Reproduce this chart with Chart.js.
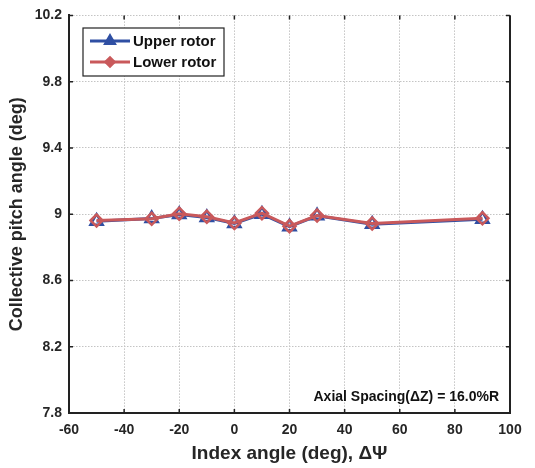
<!DOCTYPE html>
<html>
<head>
<meta charset="utf-8">
<script src="https://cdn.jsdelivr.net/npm/chart.js@4"></script>
<style>
  html, body { margin: 0; padding: 0; background: #fff; }
</style>
</head>
<body>
<canvas id="pitch-chart" width="535" height="468"></canvas>
<script>
// index angle (deg) and collective pitch (deg) for both rotors
var indexAngles = [-50, -30, -20, -10, 0, 10, 20, 30, 50, 90];
var upperPitch = [8.958, 8.974, 8.998, 8.980, 8.944, 9.000, 8.925, 8.990, 8.940, 8.970];
var lowerPitch = [8.962, 8.972, 9.003, 8.985, 8.947, 9.006, 8.928, 8.992, 8.944, 8.975];
var xTicks = [-60, -40, -20, 0, 20, 40, 60, 80, 100];
var yTicks = [7.8, 8.2, 8.6, 9, 9.4, 9.8, 10.2];

var blue = '#2f4fa3';
var red = '#c9595b';
var fontFamily = '"Liberation Sans", Arial, sans-serif';

function toPoints(ys) {
    return indexAngles.map(function (x, i) { return { x: x, y: ys[i] }; });
}

// legend box with line + marker samples, matlab style
var boxLegend = {
    id: 'boxLegend',
    afterDatasetsDraw: function (chart) {
        var ctx = chart.ctx;
        var left = 83, top = 28, w = 141, h = 48;
        ctx.save();
        ctx.fillStyle = '#fff';
        ctx.fillRect(left, top, w, h);
        ctx.strokeStyle = '#222';
        ctx.lineWidth = 1.2;
        ctx.strokeRect(left, top, w, h);
        chart.data.datasets.forEach(function (ds, i) {
            var y = top + 13 + i * 21;
            ctx.strokeStyle = ds.borderColor;
            ctx.lineWidth = 3;
            ctx.beginPath();
            ctx.moveTo(90, y);
            ctx.lineTo(130, y);
            ctx.stroke();
            ctx.fillStyle = ds.borderColor;
            ctx.lineWidth = ds.pointBorderWidth;
            Chart.helpers.drawPoint(ctx, {
                pointStyle: ds.pointStyle,
                radius: ds.pointRadius - 1.5,
                borderWidth: ds.pointBorderWidth
            }, 110, y);
            ctx.fillStyle = '#111';
            ctx.font = 'bold 15px ' + fontFamily;
            ctx.textBaseline = 'middle';
            ctx.fillText(ds.label, 133, y + 1);
        });
        ctx.restore();
    }
};

// right border, inward tick marks and the spacing note
var frame = {
    id: 'frame',
    beforeDatasetsDraw: function (chart) {
        var ctx = chart.ctx, a = chart.chartArea;
        var xs = chart.scales.x, ys = chart.scales.y;
        ctx.save();
        ctx.strokeStyle = '#222';
        ctx.lineWidth = 2;
        ctx.beginPath();
        ctx.moveTo(a.right, a.top);
        ctx.lineTo(a.right, a.bottom);
        ctx.stroke();
        ctx.lineWidth = 1.5;
        ctx.beginPath();
        xTicks.forEach(function (v) {
            var px = xs.getPixelForValue(v);
            ctx.moveTo(px, a.bottom); ctx.lineTo(px, a.bottom - 4);
            ctx.moveTo(px, a.top); ctx.lineTo(px, a.top + 4);
        });
        yTicks.forEach(function (v) {
            var py = ys.getPixelForValue(v);
            ctx.moveTo(a.left, py); ctx.lineTo(a.left + 4, py);
            ctx.moveTo(a.right, py); ctx.lineTo(a.right - 4, py);
        });
        ctx.stroke();
        ctx.restore();
    },
    afterDraw: function (chart) {
        var ctx = chart.ctx, a = chart.chartArea;
        ctx.save();
        ctx.fillStyle = '#111';
        ctx.font = 'bold 14px ' + fontFamily;
        ctx.textAlign = 'right';
        ctx.textBaseline = 'alphabetic';
        ctx.fillText('Axial Spacing(\u0394Z) = 16.0%R', a.right - 11, a.bottom - 12);
        ctx.restore();
    }
};

var pitchChart = new Chart(document.getElementById('pitch-chart'), {
    type: 'line',
    data: {
        datasets: [{
            label: 'Upper rotor',
            data: toPoints(upperPitch),
            borderColor: blue,
            backgroundColor: 'rgba(255,255,255,0)',
            borderWidth: 3,
            pointStyle: 'triangle',
            pointRadius: 7,
            pointBorderWidth: 2.5,
            pointBorderColor: blue,
            pointBackgroundColor: 'rgba(255,255,255,0)',
            order: 2
        }, {
            label: 'Lower rotor',
            data: toPoints(lowerPitch),
            borderColor: red,
            backgroundColor: 'rgba(255,255,255,0)',
            borderWidth: 3,
            pointStyle: 'rectRot',
            pointRadius: 6,
            pointBorderWidth: 2.5,
            pointBorderColor: red,
            pointBackgroundColor: 'rgba(255,255,255,0)',
            order: 1
        }]
    },
    options: {
        responsive: false,
        animation: false,
        layout: { padding: { top: 15, right: 25, left: 0, bottom: 0 } },
        plugins: {
            legend: { display: false },
            tooltip: { enabled: false }
        },
        scales: {
            x: {
                type: 'linear',
                min: -60,
                max: 100,
                afterBuildTicks: function (scale) {
                    scale.ticks = xTicks.map(function (v) { return { value: v }; });
                },
                afterFit: function (scale) { scale.height = 55; },
                grid: { color: '#c4c4c4', lineWidth: 1, drawTicks: false },
                border: { display: true, color: '#222', width: 2, dash: [1.5, 1.5] },
                ticks: {
                    color: '#262626',
                    padding: 9,
                    maxRotation: 0,
                    font: { family: fontFamily, size: 14, weight: 'bold' }
                },
                title: {
                    display: true,
                    text: 'Index angle (deg), \u0394\u03A8',
                    color: '#262626',
                    padding: { top: 0, bottom: 3 },
                    font: { family: fontFamily, size: 19, weight: 'bold' }
                }
            },
            y: {
                type: 'linear',
                min: 7.8,
                max: 10.2,
                afterBuildTicks: function (scale) {
                    scale.ticks = yTicks.map(function (v) { return { value: v }; });
                },
                afterFit: function (scale) { scale.width = 69; },
                grid: { color: '#c4c4c4', lineWidth: 1, drawTicks: false },
                border: { display: true, color: '#222', width: 2, dash: [1.5, 1.5] },
                ticks: {
                    color: '#262626',
                    padding: 7,
                    font: { family: fontFamily, size: 14, weight: 'bold' },
                    callback: function (v) { return String(v); }
                },
                title: {
                    display: true,
                    text: 'Collective pitch angle (deg)',
                    color: '#262626',
                    padding: { top: 6, bottom: 0 },
                    font: { family: fontFamily, size: 18, weight: 'bold' }
                }
            }
        }
    },
    plugins: [frame, boxLegend]
});
</script>
</body>
</html>
